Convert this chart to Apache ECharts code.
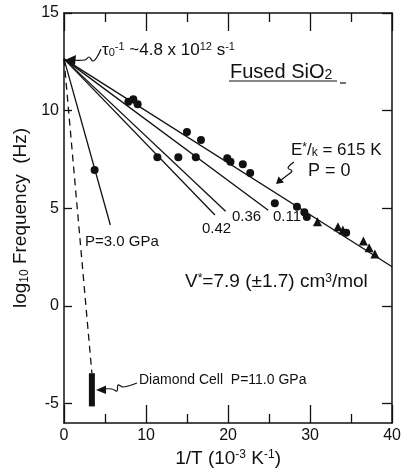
<!DOCTYPE html>
<html>
<head>
<meta charset="utf-8">
<script src="https://cdn.jsdelivr.net/npm/echarts@6/dist/echarts.min.js"></script>
<style>
  html, body { margin: 0; padding: 0; background: #fff; }
  #chart { width: 404px; height: 476px; }
</style>
</head>
<body>
<div id="chart"></div>
<script>
const FONT = 'Liberation Sans';
const INK = '#111';

// 所有直线都从同一个起点出发 (1/T = 0, log10 f = log10(4.8e12))
const origin = [0, 12.65];
const endP0 = [40, 2.0];
const end011 = [24.9, 4.9];
const end036 = [19.7, 4.85];
const end042 = [18.4, 4.65];
const end30GPa = [5.65, 4.14];
const endDashed = [3.4, -3.45];
const diamondBar = [[3.4, -3.45], [3.4, -5.15]];

// 数据点（圆点 / 三角）
const circles = [
  [7.85, 10.46], [8.45, 10.58], [8.98, 10.32],
  [14.99, 8.9], [16.7, 8.5],
  [19.9, 7.56], [20.3, 7.38], [21.8, 7.25], [22.7, 6.8],
  [28.4, 5.08], [29.3, 4.8], [29.6, 4.55], [34.4, 3.75],
  [11.38, 7.61], [13.94, 7.61], [16.07, 7.61],
  [25.7, 5.25],
  [3.73, 6.96]
];
const triangles = [
  [30.9, 4.31], [33.4, 4.05], [34.0, 3.88],
  [36.5, 3.32], [37.2, 2.97], [37.9, 2.65]
];
const yTickValues = [-5, 0, 5, 10, 15];

function fitLine(end, dashed) {
  return {
    type: 'line',
    data: [origin, end],
    showSymbol: false,
    silent: true,
    lineStyle: { color: INK, width: 1.3, type: dashed ? [7, 5] : 'solid' },
    z: 2
  };
}

function xAxisCfg(pos) {
  return {
    type: 'value', min: 0, max: 40, interval: 10, position: pos,
    axisLine: { show: true, onZero: false, lineStyle: { color: INK, width: 1.5 } },
    axisTick: { show: true, inside: true, length: 18, lineStyle: { color: INK, width: 1.3 } },
    minorTick: { show: true, splitNumber: 2, length: 9, lineStyle: { color: INK, width: 1.3 } },
    axisLabel: { show: pos === 'bottom', fontSize: 16, color: INK, fontFamily: FONT, margin: 5 },
    splitLine: { show: false },
    minorSplitLine: { show: false }
  };
}

function yAxisCfg(pos) {
  return {
    type: 'value', min: -6, max: 15, position: pos,
    axisLine: { show: true, onZero: false, lineStyle: { color: INK, width: 1.5 } },
    axisTick: { show: true, inside: true, length: pos === 'left' ? 8 : 10, customValues: yTickValues,
      lineStyle: { color: INK, width: 1.3 } },
    axisLabel: { show: pos === 'left', customValues: yTickValues, fontSize: 16, color: INK,
      fontFamily: FONT, margin: 5 },
    splitLine: { show: false }
  };
}

const chart = echarts.init(document.getElementById('chart'));

const xBottom = xAxisCfg('bottom');
xBottom.name = '{m|1/T (10}{sup|-3}{m| K}{sup|-1}{m|)}';
xBottom.nameLocation = 'middle';
xBottom.nameGap = 22;
xBottom.nameTextStyle = {
  color: INK, fontFamily: FONT,
  rich: {
    m: { fontSize: 19, color: INK, fontFamily: FONT },
    sup: { fontSize: 12, color: INK, fontFamily: FONT, verticalAlign: 'top' }
  }
};

const yLeft = yAxisCfg('left');
yLeft.name = '{m|log}{sub|10}{m| Frequency  (Hz)}';
yLeft.nameLocation = 'middle';
yLeft.nameGap = 28;
yLeft.nameTextStyle = {
  color: INK, fontFamily: FONT,
  rich: {
    m: { fontSize: 19, color: INK, fontFamily: FONT },
    sub: { fontSize: 12, color: INK, fontFamily: FONT, verticalAlign: 'bottom' }
  }
};

function label(x, y, text, size, rich) {
  const style = { text: text, x: 0, y: 0, fill: INK, font: size + 'px "' + FONT + '"',
    align: 'left', verticalAlign: 'middle' };
  if (rich) style.rich = rich;
  return { type: 'text', x: x, y: y, style: style, z: 100, silent: true };
}
function squiggle(points) {
  return { type: 'polyline', shape: { points: points, smooth: 0.4 },
    style: { stroke: INK, fill: null, lineWidth: 1.2 }, z: 100, silent: true };
}
function head(points) {
  return { type: 'polygon', shape: { points: points }, style: { fill: INK }, z: 100, silent: true };
}

const supRich = (big, small) => ({
  m: { fontSize: big, fontFamily: FONT, color: INK },
  sup: { fontSize: small, fontFamily: FONT, color: INK, verticalAlign: 'top' },
  sub: { fontSize: small, fontFamily: FONT, color: INK, verticalAlign: 'bottom' }
});

const option = {
  animation: false,
  backgroundColor: '#fff',
  grid: { left: 64, right: 8, top: 13, bottom: 53, containLabel: false },
  xAxis: [xBottom, xAxisCfg('top')],
  yAxis: [yLeft, yAxisCfg('right')],
  series: [
    fitLine(endP0), fitLine(end011), fitLine(end036), fitLine(end042),
    fitLine(end30GPa), fitLine(endDashed, true),
    {
      type: 'line', data: diamondBar, showSymbol: false, silent: true,
      lineStyle: { color: INK, width: 6, cap: 'butt' }, z: 3
    },
    {
      type: 'scatter', data: circles, symbol: 'circle', symbolSize: 8,
      itemStyle: { color: INK, opacity: 1 }, z: 4
    },
    {
      type: 'scatter', data: triangles, symbol: 'triangle', symbolSize: 9,
      itemStyle: { color: INK, opacity: 1 }, z: 4
    }
  ],
  graphic: [
    label(102, 50, '{m|τ}{sub|0}{sup|-1}{m| ~4.8 x 10}{sup|12}{m| s}{sup|-1}', 17, supRich(17, 11)),
    squiggle([[101, 49], [97, 57], [93, 61], [89, 57], [85, 60], [71, 60]]),
    head([[65, 60], [76, 55], [75, 65]]),

    label(230, 72, 'Fused SiO{sub|2}', 20, { sub: { fontSize: 14, fontFamily: FONT, color: INK, verticalAlign: 'bottom' } }),
    { type: 'line', shape: { x1: 229, y1: 81, x2: 337, y2: 81 }, style: { stroke: INK, lineWidth: 1.2 }, z: 100 },
    { type: 'line', shape: { x1: 340, y1: 83, x2: 346, y2: 83 }, style: { stroke: INK, lineWidth: 1.2 }, z: 100 },

    label(291, 150, '{m|E}{sup|*}{m|/}{sub|k}{m| = 615 K}', 17, supRich(17, 12)),
    label(308, 171, 'P = 0', 18),
    squiggle([[294, 162], [288, 168], [292, 171], [285, 177], [280, 181]]),
    head([[276, 184], [278.5, 176.5], [284, 182.5]]),

    label(202, 229, '0.42', 15),
    label(232, 217, '0.36', 15),
    label(273, 217, '0.11', 15),

    label(85, 242, 'P=3.0 GPa', 15),
    label(185, 282, '{m|V}{sup|*}{m|=7.9 (±1.7) cm}{sup|3}{m|/mol}', 19, supRich(19, 12)),

    label(139, 380, 'Diamond Cell  P=11.0 GPa', 14),
    squiggle([[137, 383], [123, 387], [118, 385], [117, 391], [112, 389], [104, 389]]),
    head([[96, 390], [106, 385.5], [106, 394]])
  ]
};

chart.setOption(option);
</script>
</body>
</html>
